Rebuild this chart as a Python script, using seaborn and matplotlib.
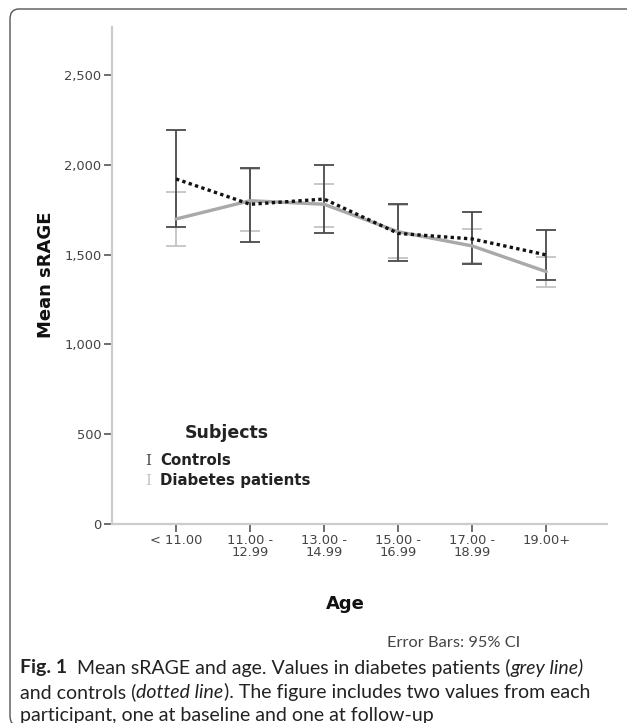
"""
Mean sRAGE by age group for controls and diabetes patients, with 95% CI error bars.
"""

import matplotlib
matplotlib.use("Agg")
import matplotlib.pyplot as plt
from matplotlib.patches import FancyBboxPatch
from matplotlib.ticker import FuncFormatter
import numpy as np
import pandas as pd
import seaborn as sns

# data
age_groups = ["< 11.00", "11.00 -\n12.99", "13.00 -\n14.99", "15.00 -\n16.99", "17.00 -\n18.99", "19.00+"]
controls_mean = [1921, 1780, 1809, 1618, 1587, 1498]
controls_lo = [1654, 1569, 1620, 1463, 1446, 1359]
controls_hi = [2194, 1982, 2000, 1782, 1736, 1637]
diabetes_mean = [1698, 1800, 1780, 1627, 1548, 1405]
diabetes_lo = [1550, 1631, 1655, 1483, 1455, 1321]
diabetes_hi = [1847, 1975, 1895, 1775, 1641, 1488]
y_ticks = [0, 500, 1000, 1500, 2000, 2500]

W, H = 627, 723
DARK = "#4a4a4a"
LIGHT = "#c4c4c4"

sns.set_theme(style="white")
plt.rcParams["font.family"] = ["DejaVu Sans"]

df = pd.DataFrame({
    "pos": list(range(len(age_groups))) * 2,
    "mean": controls_mean + diabetes_mean,
    "Subjects": ["Controls"] * len(age_groups) + ["Diabetes patients"] * len(age_groups),
})

fig = plt.figure(figsize=(W / 100, H / 100), dpi=100)
ax = fig.add_axes([112 / W, 1 - 524 / H, (607 - 112) / W, (524 - 27) / H])

# error bars first, lines on top
x = np.arange(len(age_groups))
for means, lo, hi, col in [(diabetes_mean, diabetes_lo, diabetes_hi, LIGHT),
                           (controls_mean, controls_lo, controls_hi, DARK)]:
    m = np.array(means)
    err = np.vstack([m - np.array(lo), np.array(hi) - m])
    ax.errorbar(x, m, yerr=err, fmt="none", ecolor=col, elinewidth=1.3,
                capsize=7, capthick=1.3, zorder=2)

sns.lineplot(data=df[df["Subjects"] == "Diabetes patients"], x="pos", y="mean",
             color="#a9a9a9", linewidth=2.4, ax=ax, zorder=3, legend=False)
sns.lineplot(data=df[df["Subjects"] == "Controls"], x="pos", y="mean",
             color="#111111", linewidth=2.4, ax=ax, zorder=4, legend=False)
ax.lines[-1].set_dashes([1.0, 1.0])

ax.set_xlim(-0.865, 5.82)
ax.set_ylim(0, 2767)
ax.set_xticks(x)
ax.set_xticklabels(age_groups, fontsize=9.4, color="#444444", linespacing=0.9)
ax.set_yticks(y_ticks)
ax.yaxis.set_major_formatter(FuncFormatter(lambda v, p: f"{int(v):,}"))
ax.tick_params(axis="y", labelsize=9.4, labelcolor="#444444")
ax.tick_params(axis="both", direction="out", length=6, width=1.2, color="#555555",
               bottom=True, left=True, pad=1.5)
ax.set_xlabel("")
ax.set_ylabel("")
for side in ["top", "right"]:
    ax.spines[side].set_visible(False)
for side in ["left", "bottom"]:
    ax.spines[side].set_color("#cccccc")
    ax.spines[side].set_linewidth(1.6)

ax.set_facecolor("white")

def px(xp, yp):
    return xp / W, 1 - yp / H

fig.text(*px(46, 275), "Mean sRAGE", rotation=90, fontsize=13, fontweight="bold",
         ha="center", va="center", color="#111111")
fig.text(*px(345, 604), "Age", fontsize=13, fontweight="bold",
         ha="center", va="center", color="#111111")

# legend drawn like the SPSS one
fig.text(*px(227, 433), "Subjects", fontsize=12.5, fontweight="bold", ha="center",
         va="center", color="#222222")
for yy, label, col in [(461, "Controls", DARK), (481, "Diabetes patients", LIGHT)]:
    fig.text(*px(148, yy), "I", fontsize=11, ha="center", va="center", color=col,
             family="DejaVu Serif")
    fig.text(*px(160, yy), label, fontsize=10.8, fontweight="bold", ha="left",
             va="center", color="#222222")

cap_font = ["Lato", "DejaVu Sans"]
fig.text(*px(454, 643), "Error Bars: 95% CI", fontsize=11.8, ha="center", va="center",
         color="#444444", family=cap_font)

# caption with mixed styles
fig.canvas.draw()
renderer = fig.canvas.get_renderer()


def write_line(x0, y0, parts):
    xc = x0
    for text, style in parts:
        kw = dict(fontsize=14.0, family=cap_font, color="#222222", va="center", ha="left")
        if style == "b":
            kw["fontweight"] = "bold"
        if style == "i":
            kw["style"] = "italic"
        t = fig.text(*px(xc, y0), text, **kw)
        bb = t.get_window_extent(renderer)
        xc += bb.width


write_line(20, 668, [("Fig. 1", "b"), ("  Mean sRAGE and age. Values in diabetes patients (", ""),
                     ("grey line)", "i")])
write_line(20, 692, [("and controls (", ""), ("dotted line", "i"),
                     ("). The figure includes two values from each", "")])
write_line(20, 716, [("participant, one at baseline and one at follow-up", "")])

# rounded frame open at the right
frame = FancyBboxPatch((10 / W, 1 - 726 / H), 700 / W, (726 - 9) / H,
                       boxstyle="round,pad=0,rounding_size=0.014",
                       transform=fig.transFigure, fill=False, edgecolor="#555555",
                       linewidth=1.0, clip_on=False)
fig.patches.append(frame)

fig.savefig("out.png", dpi=100, facecolor="white")
